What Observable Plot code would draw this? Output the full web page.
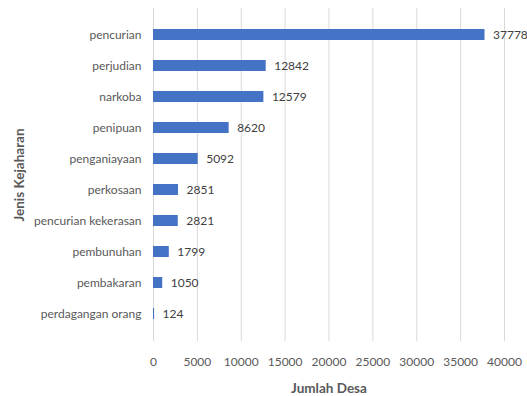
<!DOCTYPE html>
<html>
<head>
<meta charset="utf-8">
<script src="https://cdn.jsdelivr.net/npm/d3@7"></script>
<script src="https://cdn.jsdelivr.net/npm/@observablehq/plot@0.6"></script>
<style>
  html, body { margin: 0; padding: 0; background: #fff; }
  #chart svg { display: block; }
  g[aria-label="x-axis label"] text, g[aria-label="y-axis label"] text { font-weight: bold; fill: #595959; font-size: 13.5px; }
</style>
</head>
<body>
<div id="chart"></div>
<script>
const categories = ["pencurian", "perjudian", "narkoba", "penipuan", "penganiayaan", "perkosaan", "pencurian kekerasan", "pembunuhan", "pembakaran", "perdagangan orang"];
const values = [37778, 12842, 12579, 8620, 5092, 2851, 2821, 1799, 1050, 124];
const xTicks = [0, 5000, 10000, 15000, 20000, 25000, 30000, 35000, 40000];

const data = categories.map((c, i) => ({category: c, value: values[i]}));

const chart = Plot.plot({
  width: 527,
  height: 396,
  marginLeft: 153,
  marginRight: 23,
  marginTop: 8,
  marginBottom: 55,
  style: {fontFamily: "Lato, 'Open Sans', sans-serif", fontSize: "12px", color: "#595959", background: "#fff"},
  x: {domain: [0, 40000], ticks: xTicks},
  y: {domain: categories, padding: 0.63},
  marks: [
    Plot.gridX(xTicks, {stroke: "#d9d9d9", strokeOpacity: 1}),
    Plot.barX(data, {x: "value", y: "category", fill: "#4472C4"}),
    Plot.text(data, {x: "value", y: "category", text: d => String(d.value), textAnchor: "start", dx: 8, fill: "#404040", fontSize: 12}),
    Plot.axisX(xTicks, {tickSize: 0, tickPadding: 16, tickFormat: d => String(d), label: "Jumlah Desa", labelAnchor: "center", labelArrow: "none", labelOffset: 51, fill: "#595959"}),
    Plot.axisY({tickSize: 0, tickPadding: 12, label: "Jenis Kejaharan", labelAnchor: "center", labelArrow: "none", labelOffset: 139, fill: "#595959"})
  ]
});
document.getElementById("chart").appendChild(chart);
</script>
</body>
</html>
